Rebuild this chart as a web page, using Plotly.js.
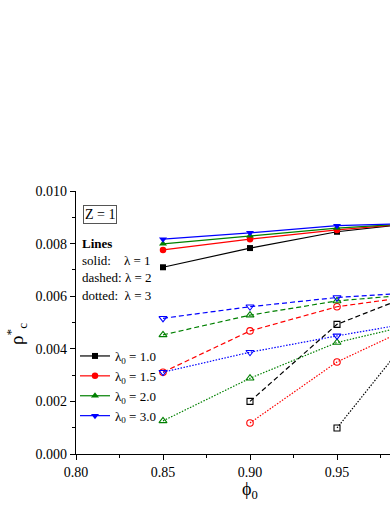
<!DOCTYPE html>
<html>
<head>
<meta charset="utf-8">
<script src="https://cdn.plot.ly/plotly-3.0.1.min.js"></script>
<style>
html,body{margin:0;padding:0;overflow:hidden;width:390px;height:505px;background:#fff;}
#chart{width:444px;height:505px;}
</style>
</head>
<body>
<div id="chart"></div>
<script>
// phi_0 values
const phi = [0.85, 0.90, 0.95, 1.00];
// solid: lambda = 1
const solid_l10 = [0.00710, 0.00783, 0.00845, 0.00882];
const solid_l15 = [0.00776, 0.00817, 0.00852, 0.00880];
const solid_l20 = [0.00799, 0.00830, 0.00859, 0.00879];
const solid_l30 = [0.00817, 0.00841, 0.00868, 0.00878];
// dashed: lambda = 2
const phiDashBlack = [0.90, 0.95, 1.00];
const dash_l10 = [0.00200, 0.00493, 0.00623];
const dash_l15 = [0.00311, 0.00468, 0.00560, 0.00605];
const dash_l20 = [0.00453, 0.00528, 0.00582, 0.00610];
const dash_l30 = [0.00516, 0.00560, 0.00595, 0.00616];
// dotted: lambda = 3
const phiDotBlack = [0.95, 1.00];
const phiDotRed = [0.90, 0.95, 1.00];
const dot_l10 = [0.00099, 0.00513];
const dot_l15 = [0.00118, 0.00350, 0.00505];
const dot_l20 = [0.00126, 0.00288, 0.00424, 0.00502];
const dot_l30 = [0.00311, 0.00387, 0.00449, 0.00507];

const legendNames = ['λ<sub>0</sub> = 1.0', 'λ<sub>0</sub> = 1.5', 'λ<sub>0</sub> = 2.0', 'λ<sub>0</sub> = 3.0'];
const xTickVals = [0.80, 0.85, 0.90, 0.95];
const yTickVals = [0.000, 0.002, 0.004, 0.006, 0.008, 0.010];

const colors = ['#000000', '#ff0000', '#008000', '#0000ff'];
const symbols = ['square', 'circle', 'triangle-up', 'triangle-down'];
const sizes = [6, 6.5, 7, 7];
const FONT = '"Liberation Serif", "Times New Roman", serif';

function tr(x, y, i, dash, open, legend) {
  return {
    x: x, y: y, type: 'scatter', mode: 'lines+markers',
    name: legendNames[i], showlegend: legend,
    line: {color: colors[i], width: 1.2, dash: dash},
    marker: {
      symbol: symbols[i] + (open ? '-open' : ''),
      size: sizes[i], color: colors[i],
      line: {color: colors[i], width: open ? 1.1 : 0}
    },
    cliponaxis: true
  };
}

const DASH = '5px,3px';
const DOT = '1.5px,1.5px';

const data = [
  tr(phiDashBlack, dash_l10, 0, DASH, true, false),
  tr(phi, dash_l15, 1, DASH, true, false),
  tr(phi, dash_l20, 2, DASH, true, false),
  tr(phi, dash_l30, 3, DASH, true, false),
  tr(phiDotBlack, dot_l10, 0, DOT, true, false),
  tr(phiDotRed, dot_l15, 1, DOT, true, false),
  tr(phi, dot_l20, 2, DOT, true, false),
  tr(phi, dot_l30, 3, DOT, true, false),
  tr(phi, solid_l10, 0, 'solid', false, true),
  tr(phi, solid_l15, 1, 'solid', false, true),
  tr(phi, solid_l20, 2, 'solid', false, true),
  tr(phi, solid_l30, 3, 'solid', false, true)
];

const L = 76, T = 191, PW = 348, PH = 263;
function px(xp) { return (xp - L) / PW; }
function py(yp) { return (T + PH - yp) / PH; }

const annFont = {family: FONT, size: 13, color: '#000'};
const layout = {
  width: 444, height: 505,
  margin: {l: L, r: 444 - L - PW, t: T, b: 505 - T - PH, pad: 0},
  paper_bgcolor: '#fff', plot_bgcolor: '#fff',
  font: {family: FONT, size: 14, color: '#000'},
  showlegend: true,
  legend: {
    x: px(75), y: py(341), xanchor: 'left', yanchor: 'top',
    bgcolor: 'rgba(0,0,0,0)', borderwidth: 0,
    font: {family: FONT, size: 13, color: '#000'},
    traceorder: 'normal', itemwidth: 30
  },
  xaxis: {
    range: [0.80, 1.00], tickvals: xTickVals, tickformat: '.2f',
    ticks: 'outside', ticklen: 5, tickwidth: 1, tickcolor: '#000',
    showline: true, linecolor: '#000', linewidth: 1.2,
    showgrid: false, zeroline: false,
    minor: {dtick: 0.025, tick0: 0.8, ticks: 'outside', ticklen: 3, tickcolor: '#000', showgrid: false},
    tickfont: {family: FONT, size: 14, color: '#000'}
  },
  xaxis2: {
    overlaying: 'x', side: 'top', matches: 'x', range: [0.80, 1.00],
    tickvals: xTickVals, showticklabels: false,
    ticks: 'inside', ticklen: 5, tickcolor: '#000',
    showline: true, linecolor: '#000', linewidth: 1.2,
    showgrid: false, zeroline: false,
    minor: {dtick: 0.025, tick0: 0.8, ticks: 'inside', ticklen: 3, tickcolor: '#000', showgrid: false}
  },
  yaxis: {
    range: [0, 0.010], tickvals: yTickVals, tickformat: '.3f',
    ticks: 'outside', ticklen: 5, tickwidth: 1, tickcolor: '#000',
    showline: true, linecolor: '#000', linewidth: 1.2,
    showgrid: false, zeroline: false,
    minor: {dtick: 0.001, tick0: 0, ticks: 'outside', ticklen: 3, tickcolor: '#000', showgrid: false},
    tickfont: {family: FONT, size: 14, color: '#000'}
  },
  annotations: [
    {xref: 'paper', yref: 'paper', x: px(83), y: py(214), xanchor: 'left', yanchor: 'middle',
     text: 'Z = 1', showarrow: false, font: {family: FONT, size: 14, color: '#000'},
     bordercolor: '#555', borderwidth: 1, borderpad: 1},
    {xref: 'paper', yref: 'paper', x: px(80), y: py(243), xanchor: 'left', yanchor: 'middle',
     text: '<b>Lines</b>', showarrow: false, font: annFont},
    {xref: 'paper', yref: 'paper', x: px(80), y: py(260), xanchor: 'left', yanchor: 'middle',
     text: 'solid:\u00a0\u00a0\u00a0 λ = 1', showarrow: false, font: annFont},
    {xref: 'paper', yref: 'paper', x: px(80), y: py(277.5), xanchor: 'left', yanchor: 'middle',
     text: 'dashed: λ = 2', showarrow: false, font: annFont},
    {xref: 'paper', yref: 'paper', x: px(80), y: py(295), xanchor: 'left', yanchor: 'middle',
     text: 'dotted:\u00a0 λ = 3', showarrow: false, font: annFont},
    {xref: 'paper', yref: 'paper', x: px(16), y: py(334), xanchor: 'center', yanchor: 'middle',
     text: 'ρ<sup>*</sup><sub>c</sub>', textangle: -90, showarrow: false,
     font: {family: FONT, size: 19, color: '#000'}},
    {xref: 'paper', yref: 'paper', x: px(250), y: py(490), xanchor: 'center', yanchor: 'middle',
     text: 'ϕ<sub>0</sub>', showarrow: false,
     font: {family: FONT, size: 18, color: '#000'}}
  ]
};

Plotly.newPlot('chart', data, layout, {displayModeBar: false, staticPlot: true});
</script>
</body>
</html>
